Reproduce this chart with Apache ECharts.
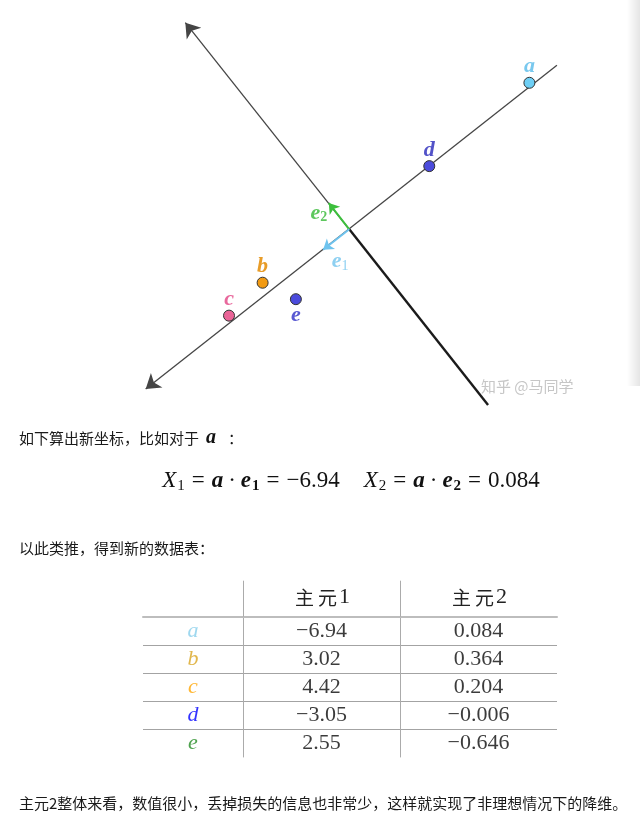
<!DOCTYPE html>
<html><head><meta charset="utf-8">
<script src="https://cdn.jsdelivr.net/npm/echarts@6/dist/echarts.min.js"></script>
<style>html,body{margin:0;padding:0;background:#fff}#c{width:640px;height:819px}</style>
</head><body><div id="c"></div>
<script>
// ---------------- data ----------------
const pointNames = ['a', 'b', 'c', 'd', 'e'];
const pointX = [5.36, -2.58, -3.58, 2.38, -1.59];
const pointY = [4.36, -1.59, -2.57, 1.88, -2.08];
const pc1Line = [[6.18, 4.88], [-6.06, -4.75]];
const pc2Upper = [[0, 0], [-4.88, 6.15]];
const pc2Lower = [[0, 0], [4.13, -5.23]];
const e1 = [-0.78, -0.61];
const e2 = [-0.61, 0.78];
const tableRows = ['a', 'b', 'c', 'd', 'e'];
const tableCols = ['主元1', '主元2'];
const pc1Values = [-6.94, 3.02, 4.42, -3.05, 2.55];
const pc2Values = [0.084, 0.364, 0.204, -0.006, -0.646];

// ---------------- styles ----------------
const pointFill = {a: '#6ecff5', b: '#f29a12', c: '#ea6497', d: '#4b4bdc', e: '#4b4bdc'};
const pointLabel = {a: '#78c8ee', b: '#e89c28', c: '#e8689c', d: '#5252c8', e: '#5858d2'};
const rowColor = {a: '#87ceeb', b: '#daa520', c: '#ffa500', d: '#0000ff', e: '#228b22'};
const SERIF = '"Liberation Serif", "DejaVu Serif", serif';
const CJK = '"Noto Sans CJK SC", "Noto Sans", sans-serif';
const fmt = v => String(v).replace('-', '\u2212');

const chart = echarts.init(document.getElementById('c'), null, {renderer: 'canvas'});

const tableAxisX = (i, data, ticks, label) => ({
  type: 'category', gridIndex: i, position: 'top', data: data,
  axisLine: {show: true, lineStyle: {color: '#bdbdbd', width: 2}},
  axisTick: {show: ticks, length: 36, alignWithLabel: false, lineStyle: {color: '#ababab', width: 1}},
  axisLabel: label ? {
    show: true, margin: 19, verticalAlign: 'middle',
    formatter: v => '{c|' + v.slice(0, 1) + '}{c|' + v.slice(1, 2) + '}{n|' + v.slice(2) + '}',
    rich: {
      c: {fontFamily: CJK, fontSize: 19, color: '#222', padding: [0, 2, 0, 2]},
      n: {fontFamily: SERIF, fontSize: 22, color: '#222'}
    }
  } : {show: false},
  splitLine: {show: false}
});
const tableAxisY = (i, line) => ({
  type: 'category', gridIndex: i, data: tableRows, inverse: true,
  axisLine: {show: line, onZero: false, lineStyle: {color: '#ababab', width: 1}},
  axisTick: {show: false}, axisLabel: {show: false},
  splitLine: {show: true, showMinLine: false, showMaxLine: false, lineStyle: {color: '#a3a3a3', width: 1.2}}
});

const cellLabel = {show: true, position: 'inside', fontFamily: SERIF, fontSize: 22, color: '#0a0a0a', formatter: p => fmt(p.value[2])};

const option = {
  animation: false,
  backgroundColor: '#ffffff',
  grid: [
    {left: 0, top: 0, width: 640, height: 410, containLabel: false, outerBoundsMode: 'none'},
    {left: 143, top: 616.7, width: 100, height: 140.3, containLabel: false, outerBoundsMode: 'none'},
    {left: 243, top: 616.7, width: 157, height: 140.3, containLabel: false, outerBoundsMode: 'none'},
    {left: 400, top: 616.7, width: 157, height: 140.3, containLabel: false, outerBoundsMode: 'none'}
  ],
  xAxis: [
    {type: 'value', gridIndex: 0, min: -10.396, max: 8.652, show: false},
    tableAxisX(1, [''], false, false),
    tableAxisX(2, [tableCols[0]], true, true),
    tableAxisX(3, [tableCols[1]], false, true)
  ],
  yAxis: [
    {type: 'value', gridIndex: 0, min: -5.378, max: 6.824, show: false},
    tableAxisY(1, false),
    tableAxisY(2, true),
    tableAxisY(3, true)
  ],
  series: [
    {
      type: 'lines', coordinateSystem: 'cartesian2d', xAxisIndex: 0, yAxisIndex: 0, silent: true,
      symbol: ['none', 'arrow'], symbolSize: [6.5, 14],
      lineStyle: {color: '#454545', width: 1.3, opacity: 1, curveness: 0},
      data: [{coords: pc1Line}, {coords: pc2Upper}], z: 2
    },
    {
      type: 'lines', coordinateSystem: 'cartesian2d', xAxisIndex: 0, yAxisIndex: 0, silent: true,
      symbol: ['none', 'none'],
      lineStyle: {color: '#1b1b1b', width: 2.4, opacity: 1, curveness: 0},
      data: [{coords: pc2Lower}], z: 3
    },
    {
      type: 'lines', coordinateSystem: 'cartesian2d', xAxisIndex: 0, yAxisIndex: 0, silent: true,
      symbol: ['none', 'arrow'], symbolSize: [5, 10],
      lineStyle: {color: '#3cbf3c', width: 2, opacity: 1, curveness: 0},
      data: [{coords: [[0, 0], e2]}], z: 4
    },
    {
      type: 'lines', coordinateSystem: 'cartesian2d', xAxisIndex: 0, yAxisIndex: 0, silent: true,
      symbol: ['none', 'arrow'], symbolSize: [5, 10],
      lineStyle: {color: '#6ec3ee', width: 2, opacity: 1, curveness: 0},
      data: [{coords: [[0, 0], e1]}], z: 4
    },
    {
      type: 'scatter', xAxisIndex: 0, yAxisIndex: 0, symbolSize: 11, z: 5,
      itemStyle: {borderColor: '#333', borderWidth: 1, opacity: 1},
      label: {show: true, formatter: '{b}', fontFamily: SERIF, fontStyle: 'italic', fontWeight: 'bold', fontSize: 22},
      data: pointNames.map((n, i) => ({
        name: n, value: [pointX[i], pointY[i]],
        itemStyle: {color: pointFill[n]},
        label: {color: pointLabel[n], position: n === 'e' ? 'bottom' : 'top', distance: -1}
      }))
    },
    {
      type: 'scatter', xAxisIndex: 0, yAxisIndex: 0, symbolSize: 1, silent: true, z: 6,
      itemStyle: {color: 'rgba(0,0,0,0)'},
      label: {
        show: true, position: 'inside',
        rich: {
          g: {fontFamily: SERIF, fontStyle: 'italic', fontWeight: 'bold', fontSize: 22, color: '#36b936'},
          gs: {fontFamily: SERIF, fontWeight: 'bold', fontSize: 14, color: '#36b936', padding: [9, 0, 0, 0]},
          b: {fontFamily: SERIF, fontStyle: 'italic', fontWeight: 'bold', fontSize: 22, color: '#72c4ee'},
          bs: {fontFamily: SERIF, fontSize: 14, color: '#72c4ee', padding: [9, 0, 0, 0]}
        }
      },
      data: [
        {value: e2, label: {formatter: '{g|e}{gs|2}', offset: [-10, 10]}},
        {value: e1, label: {formatter: '{b|e}{bs|1}', offset: [17, 12]}}
      ]
    },
    {
      type: 'scatter', xAxisIndex: 1, yAxisIndex: 1, symbolSize: 1, silent: true,
      itemStyle: {color: 'rgba(0,0,0,0)'},
      label: {show: true, position: 'inside', fontFamily: SERIF, fontStyle: 'italic', fontSize: 22},
      data: tableRows.map((r, i) => ({value: [0, i], label: {formatter: r, color: rowColor[r]}}))
    },
    {
      type: 'scatter', xAxisIndex: 2, yAxisIndex: 2, symbolSize: 1, silent: true,
      itemStyle: {color: 'rgba(0,0,0,0)'}, label: cellLabel,
      data: pc1Values.map((v, i) => [0, i, v])
    },
    {
      type: 'scatter', xAxisIndex: 3, yAxisIndex: 3, symbolSize: 1, silent: true,
      itemStyle: {color: 'rgba(0,0,0,0)'}, label: cellLabel,
      data: pc2Values.map((v, i) => [0, i, v])
    }
  ],
  graphic: [
    {
      type: 'rect', silent: true, z: 0,
      shape: {x: 627, y: 0, width: 13, height: 386},
      style: {fill: new echarts.graphic.LinearGradient(0, 0, 1, 0, [
        {offset: 0, color: 'rgba(0,0,0,0)'}, {offset: 1, color: 'rgba(0,0,0,0.10)'}])}
    },
    {
      type: 'text', x: 481, y: 386, silent: true,
      style: {text: '知乎 @马同学', font: '15px ' + CJK, fill: '#c6c6c6', verticalAlign: 'middle'}
    },
    {
      type: 'text', x: 19, y: 438, silent: true,
      style: {
        text: '{t|如下算出新坐标，比如对于}{a|a}{t|：}', verticalAlign: 'middle',
        rich: {
          t: {fontFamily: CJK, fontSize: 15, fill: '#1a1a1a', color: '#1a1a1a'},
          a: {fontFamily: SERIF, fontStyle: 'italic', fontWeight: 'bold', fontSize: 20, fill: '#111', color: '#111', padding: [0, 12, 0, 7]}
        }
      }
    },
    {
      type: 'text', x: 351, y: 481, silent: true,
      style: {
        text: '{i|X}{s|1}{eq|=}{b|a}{dot|·}{b|e}{bs|1}{eq|=}{o|' + fmt(pc1Values[0]) + '}{g|}' +
              '{i|X}{s|2}{eq|=}{b|a}{dot|·}{b|e}{bs|2}{eq|=}{o|' + fmt(pc2Values[0]) + '}',
        align: 'center', verticalAlign: 'middle',
        rich: {
          i: {fontFamily: SERIF, fontStyle: 'italic', fontSize: 23, fill: '#111', color: '#111'},
          s: {fontFamily: SERIF, fontSize: 15, fill: '#111', color: '#111', padding: [10, 0, 0, 1]},
          o: {fontFamily: SERIF, fontSize: 23, fill: '#111', color: '#111'},
          eq: {fontFamily: SERIF, fontSize: 23, fill: '#111', color: '#111', padding: [0, 7, 0, 7]},
          dot: {fontFamily: SERIF, fontSize: 23, fill: '#111', color: '#111', padding: [0, 5, 0, 5]},
          b: {fontFamily: SERIF, fontStyle: 'italic', fontWeight: 'bold', fontSize: 23, fill: '#111', color: '#111'},
          bs: {fontFamily: SERIF, fontWeight: 'bold', fontSize: 15, fill: '#111', color: '#111', padding: [10, 0, 0, 1]},
          g: {width: 24}
        }
      }
    },
    {
      type: 'text', x: 19, y: 548, silent: true,
      style: {text: '以此类推，得到新的数据表：', font: '15px ' + CJK, fill: '#1a1a1a', verticalAlign: 'middle'}
    },
    {
      type: 'text', x: 19, y: 803, silent: true,
      style: {text: '主元2整体来看，数值很小，丢掉损失的信息也非常少，这样就实现了非理想情况下的降维。', font: '15px ' + CJK, fill: '#1a1a1a', verticalAlign: 'middle'}
    }
  ]
};
chart.setOption(option);
</script>
</body></html>
